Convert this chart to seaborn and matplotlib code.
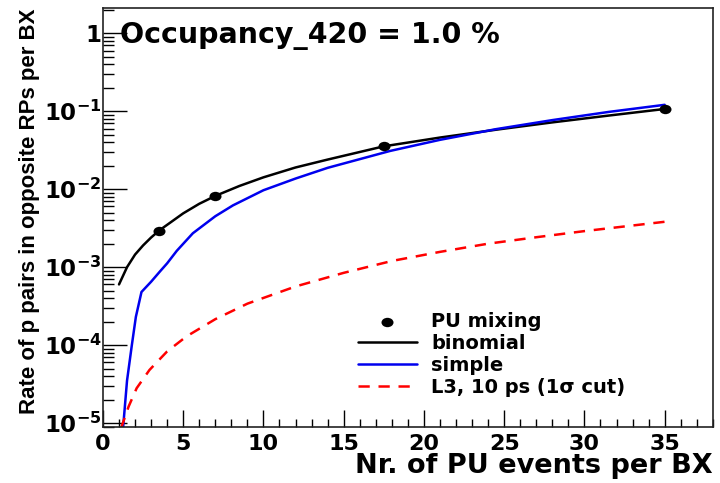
import numpy as np
import pandas as pd
import matplotlib
matplotlib.use("Agg")
import matplotlib.pyplot as plt
import seaborn as sns
from matplotlib.path import Path
from matplotlib.ticker import FixedLocator, FixedFormatter, LogLocator, MultipleLocator, NullFormatter

# PU mixing simulation points
mix_n = [3.5, 7.0, 17.5, 35.0]
mix_rate = [2.95e-3, 8.2e-3, 3.55e-2, 1.07e-1]

# binomial model
binom_n = [1.0, 1.5, 2.0, 2.5, 3.0, 3.5, 4.25, 5.0, 6.0, 7.0, 8.5, 10.0, 12.0, 14.0, 17.5, 21.0, 24.5,
           28.0, 31.5, 35.0]
binom_rate = [6.0e-4, 1.0e-3, 1.45e-3, 1.9e-3, 2.4e-3, 2.95e-3, 3.8e-3, 4.9e-3, 6.5e-3, 8.2e-3, 1.1e-2,
              1.42e-2, 1.9e-2, 2.4e-2, 3.55e-2, 4.6e-2, 5.8e-2, 7.2e-2, 8.8e-2, 1.07e-1]

# simple model
simple_n = [1.25, 1.5, 1.8, 2.05, 2.4, 3.0, 3.55, 4.0, 4.6, 5.6, 7.0, 8.1, 10.0, 12.0, 14.0, 17.9, 21.0,
            24.5, 28.0, 31.5, 35.0]
simple_rate = [8.5e-6, 3.5e-5, 1.0e-4, 2.3e-4, 4.8e-4, 6.5e-4, 8.8e-4, 1.12e-3, 1.62e-3, 2.72e-3, 4.5e-3,
               6.2e-3, 9.7e-3, 1.37e-2, 1.88e-2, 3.1e-2, 4.3e-2, 5.9e-2, 7.7e-2, 9.8e-2, 1.21e-1]

# L3, 10 ps timing, 1 sigma cut
l3_n = [1.12, 1.6, 2.1, 2.9, 4.0, 5.2, 7.0, 9.0, 12.0, 15.0, 18.0, 21.0, 24.0, 27.0, 30.0, 35.0]
l3_rate = [8.5e-6, 1.63e-5, 2.8e-5, 4.8e-5, 8.3e-5, 1.29e-4, 2.15e-4, 3.4e-4, 5.65e-4, 8.45e-4, 1.2e-3,
           1.57e-3, 2.0e-3, 2.42e-3, 2.9e-3, 3.82e-3]

x_ticks = [0, 5, 10, 15, 20, 25, 30, 35]
x_ticklabels = ["0", "5", "10", "15", "20", "25", "30", "35"]
y_ticks = [1e-5, 1e-4, 1e-3, 1e-2, 1e-1, 1.0]
y_ticklabels = [r"10$^{-5}$", r"10$^{-4}$", r"10$^{-3}$", r"10$^{-2}$", r"10$^{-1}$", "1"]

labels = ["PU mixing", "binomial", "simple", "L3, 10 ps (1σ cut)"]
title_text = "Occupancy_420 = 1.0 %"
x_title = "Nr. of PU events per BX"
y_title = "Rate of p pairs in opposite RPs per BX"

sns.set_style("ticks")
plt.rcParams["font.family"] = ["DejaVu Sans"]
plt.rcParams["font.weight"] = "bold"
plt.rcParams["text.color"] = "black"
plt.rcParams["axes.labelcolor"] = "black"
plt.rcParams["xtick.color"] = "black"
plt.rcParams["ytick.color"] = "black"
plt.rcParams["mathtext.fontset"] = "custom"
plt.rcParams["mathtext.rm"] = "DejaVu Sans:bold"
plt.rcParams["mathtext.bf"] = "DejaVu Sans:bold"
plt.rcParams["mathtext.default"] = "rm"

fig = plt.figure(figsize=(7.2, 4.83), dpi=100)
ax = fig.add_axes([0.143, 0.116, 0.847, 0.867])

df_binom = pd.DataFrame({"n": binom_n, "rate": binom_rate})
df_simple = pd.DataFrame({"n": simple_n, "rate": simple_rate})
df_l3 = pd.DataFrame({"n": l3_n, "rate": l3_rate})
df_mix = pd.DataFrame({"n": mix_n, "rate": mix_rate})

sns.lineplot(data=df_binom, x="n", y="rate", color="black", lw=1.8, ax=ax, sort=False,
             estimator=None, label=labels[1])
sns.lineplot(data=df_simple, x="n", y="rate", color="#0000ee", lw=1.8, ax=ax, sort=False,
             estimator=None, label=labels[2])
sns.lineplot(data=df_l3, x="n", y="rate", color="#ff0000", lw=1.8, ax=ax, sort=False,
             estimator=None, label=labels[3], dashes=False, linestyle=(0, (4.5, 3.5)))

# slightly flattened dot marker
circ = Path.unit_circle()
flat_dot = Path(circ.vertices * np.array([1.0, 0.78]), circ.codes)
sns.scatterplot(data=df_mix, x="n", y="rate", color="black", s=75, marker=flat_dot,
                edgecolor="black", linewidth=0, ax=ax, label=labels[0], zorder=5)

ax.set_yscale("log")
ax.set_xlim(0, 38)
ax.set_ylim(8.9e-6, 2.1)

ax.xaxis.set_major_locator(FixedLocator(x_ticks))
ax.xaxis.set_major_formatter(FixedFormatter(x_ticklabels))
ax.xaxis.set_minor_locator(MultipleLocator(1))
ax.yaxis.set_major_locator(FixedLocator(y_ticks))
ax.yaxis.set_major_formatter(FixedFormatter(y_ticklabels))
ax.yaxis.set_minor_locator(LogLocator(base=10, subs=np.arange(2, 10)))
ax.yaxis.set_minor_formatter(NullFormatter())

ax.tick_params(axis="x", which="major", direction="in", length=12, width=1, labelsize=16, pad=5,
               top=False)
ax.tick_params(axis="x", which="minor", direction="in", length=6, width=1, top=False)
ax.tick_params(axis="y", which="major", direction="in", length=17, width=1, labelsize=16.5, pad=1,
               right=False)
ax.tick_params(axis="y", which="minor", direction="in", length=8, width=1, right=False)
for lab in ax.get_xticklabels() + ax.get_yticklabels():
    lab.set_fontweight("bold")

for sp in ax.spines.values():
    sp.set_visible(True)
    sp.set_color("#222222")
    sp.set_linewidth(1.2)

ax.set_xlabel(x_title, fontsize=19.5, fontweight="bold", loc="right", labelpad=-1)
ax.set_ylabel(y_title, fontsize=16, fontweight="bold", loc="top", labelpad=3,
              family=["Liberation Sans", "DejaVu Sans"])

ax.text(0.028, 0.968, title_text, transform=ax.transAxes, fontsize=20.5, fontweight="bold",
        ha="left", va="top")

handles, labs = ax.get_legend_handles_labels()
order = [labs.index(l) for l in labels]
leg = ax.legend([handles[i] for i in order], [labs[i] for i in order], loc="lower left",
                bbox_to_anchor=(0.39, 0.03), frameon=False, handlelength=3.0,
                labelspacing=0.15, handletextpad=0.75, prop={"weight": "bold", "size": 14})

fig.savefig("out.png", dpi=100)
